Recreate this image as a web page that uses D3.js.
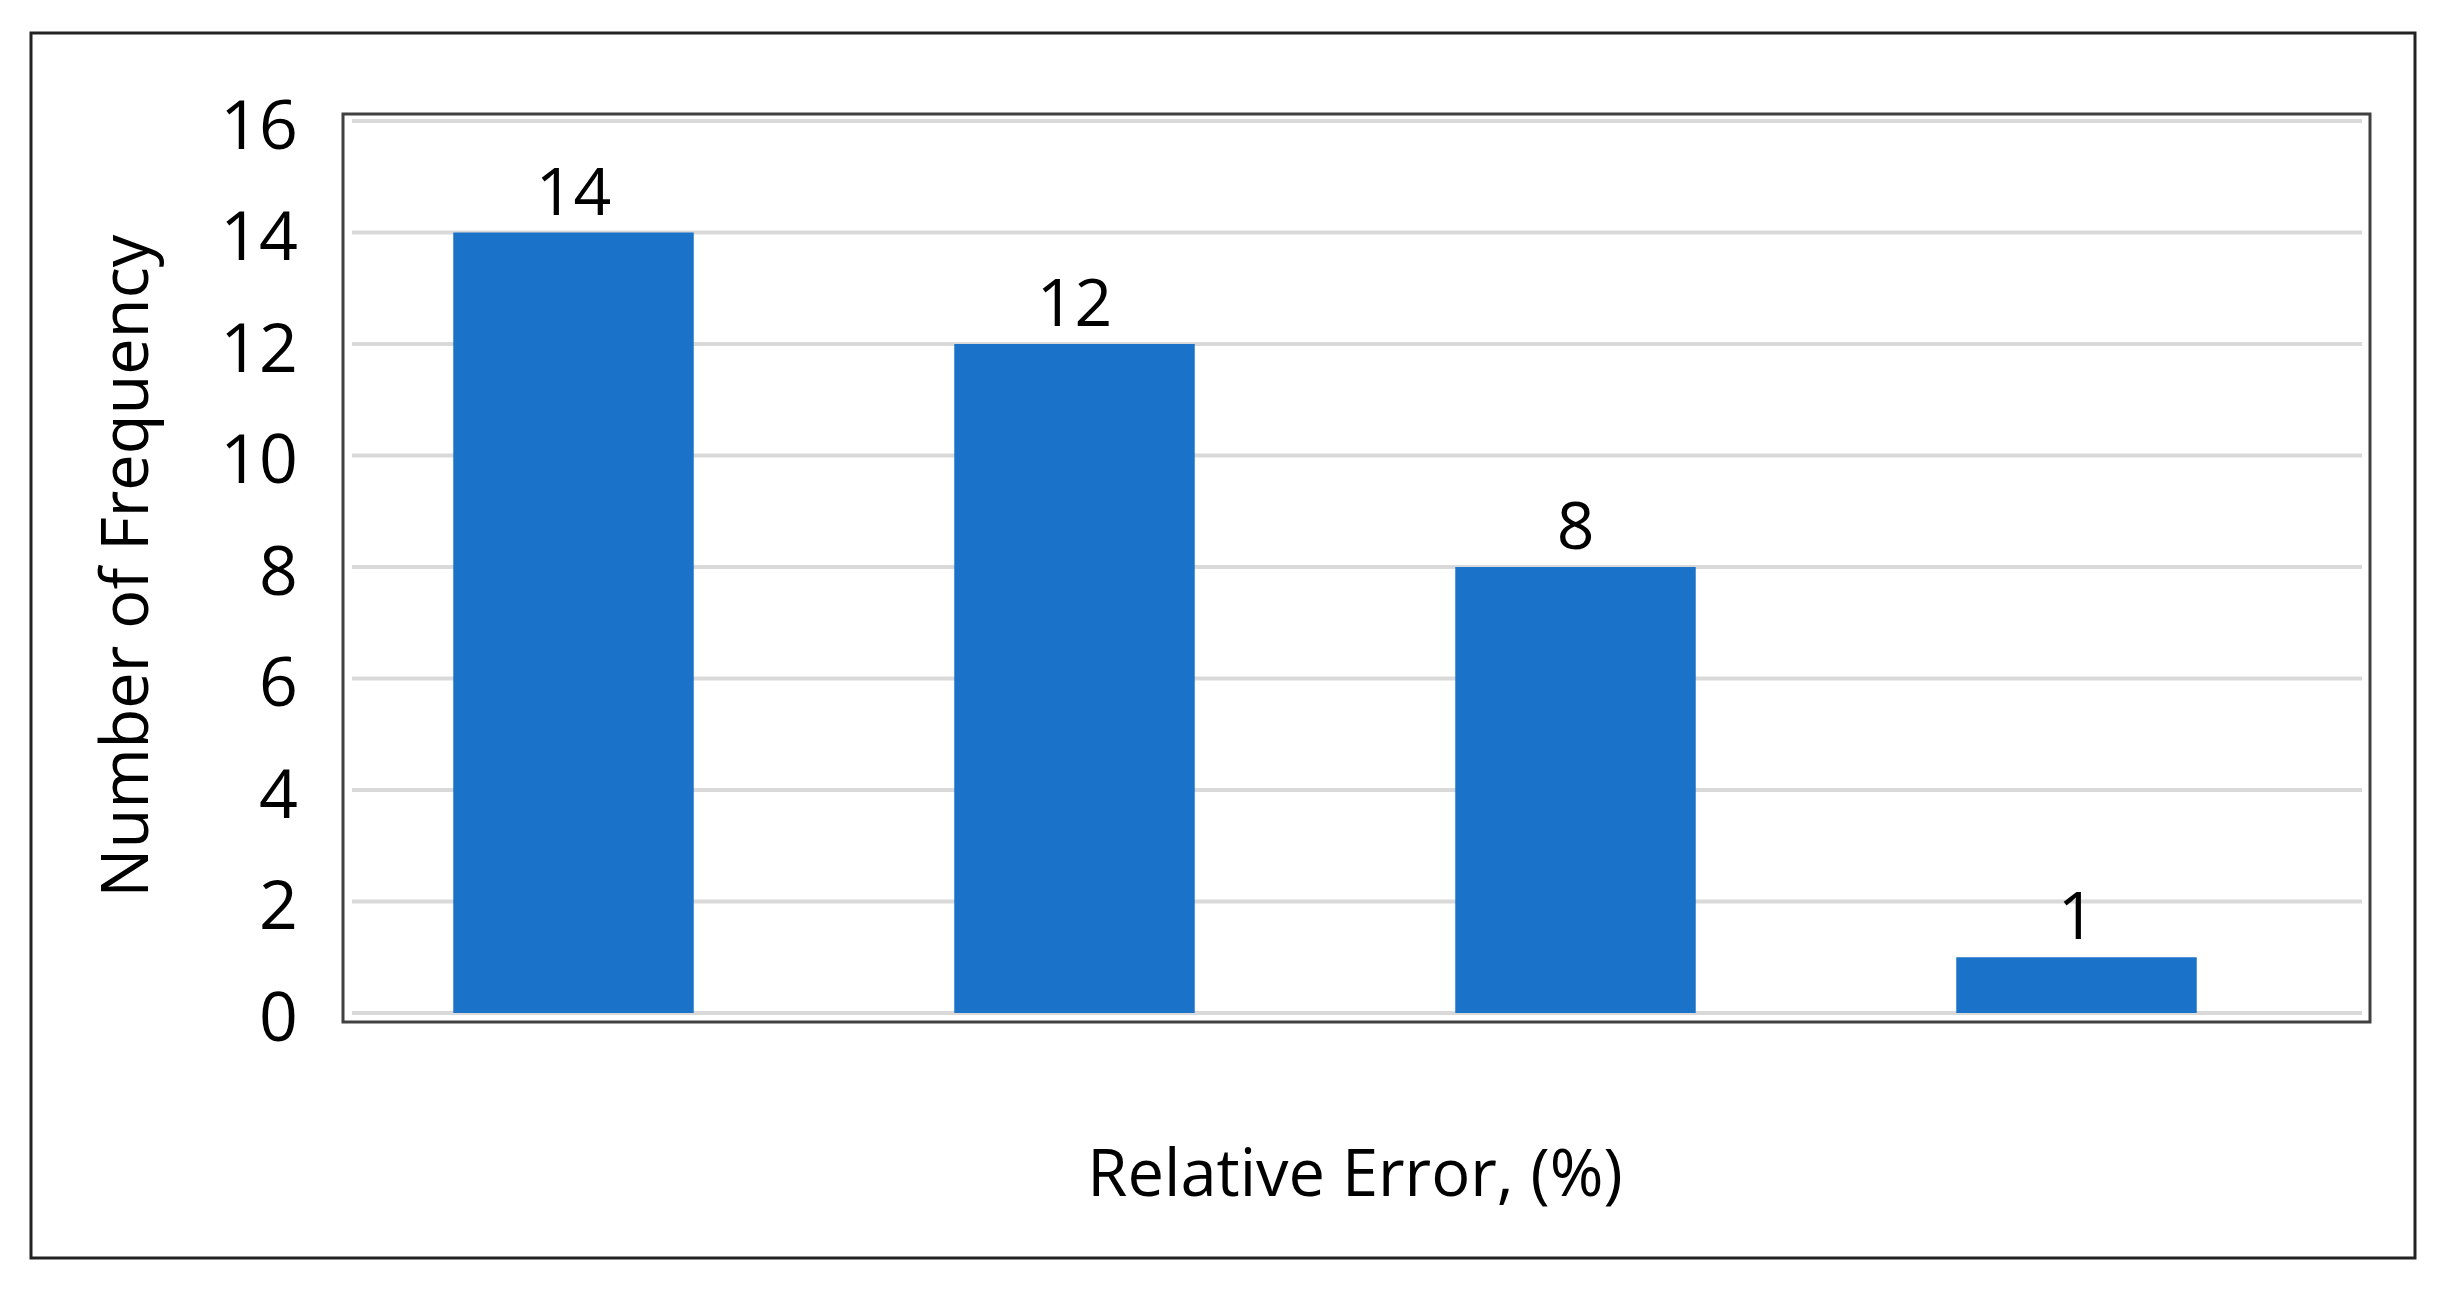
<!DOCTYPE html>
<html>
<head>
<meta charset="utf-8">
<script src="https://cdn.jsdelivr.net/npm/d3@7"></script>
<style>
  body { margin: 0; background: #fff; }
  text { font-family: 'Open Sans', 'Noto Sans', sans-serif; fill: #000; }
</style>
</head>
<body>
<div id="chart"></div>
<script>
// bins of the relative error histogram (no labels shown on the axis)
const bins = ['bin1', 'bin2', 'bin3', 'bin4'];
const frequency = [14, 12, 8, 1];
const yTicks = [0, 2, 4, 6, 8, 10, 12, 14, 16];
const xTitle = 'Relative Error, (%)';
const yTitle = 'Number of Frequency';

const config = {
    width: 2448,
    height: 1291,
    frame: { x: 31, y: 33, w: 2384, h: 1225 },
    plot: { left: 343, right: 2370, top: 114, bottom: 1022 },
    grid: { left: 352, right: 2362, top: 121, bottom: 1013 },
    barColor: '#1a73c8'
};

const svg = d3.select('#chart')
    .append('svg')
    .attr('width', config.width)
    .attr('height', config.height);

// outer frame
svg.append('rect')
    .attr('x', config.frame.x)
    .attr('y', config.frame.y)
    .attr('width', config.frame.w)
    .attr('height', config.frame.h)
    .attr('fill', 'none')
    .attr('stroke', '#222')
    .attr('stroke-width', 3);

const y = d3.scaleLinear()
    .domain([0, 16])
    .range([config.grid.bottom, config.grid.top]);

const x = d3.scaleBand()
    .domain(bins)
    .range([config.grid.left - 29, config.grid.right - 35])
    .paddingInner(0.52)
    .paddingOuter(0.26);

// gridlines
svg.append('g')
    .selectAll('line')
    .data(yTicks)
    .join('line')
    .attr('x1', config.grid.left)
    .attr('x2', config.grid.right)
    .attr('y1', d => y(d))
    .attr('y2', d => y(d))
    .attr('stroke', '#d9d9d9')
    .attr('stroke-width', 4);

// y axis tick labels
const yAxis = d3.axisLeft(y)
    .tickValues(yTicks)
    .tickSize(0)
    .tickPadding(0);

const yAxisG = svg.append('g')
    .attr('transform', `translate(298,0)`)
    .call(yAxis);
yAxisG.select('.domain').remove();
yAxisG.selectAll('text')
    .attr('dy', '0.40em')
    .style('font-family', "'Open Sans', sans-serif")
    .style('font-size', '68px')
    .attr('fill', '#000');

// bars
svg.append('g')
    .selectAll('rect')
    .data(frequency)
    .join('rect')
    .attr('x', (d, i) => x(bins[i]))
    .attr('y', d => y(d))
    .attr('width', x.bandwidth())
    .attr('height', d => y(0) - y(d))
    .attr('fill', config.barColor);

// value labels
svg.append('g')
    .selectAll('text')
    .data(frequency)
    .join('text')
    .attr('x', (d, i) => x(bins[i]) + x.bandwidth() / 2)
    .attr('y', d => y(d) - 18)
    .attr('text-anchor', 'middle')
    .style('font-size', '66px')
    .text(d => d);

// plot frame
svg.append('rect')
    .attr('x', config.plot.left)
    .attr('y', config.plot.top)
    .attr('width', config.plot.right - config.plot.left)
    .attr('height', config.plot.bottom - config.plot.top)
    .attr('fill', 'none')
    .attr('stroke', '#404040')
    .attr('stroke-width', 3);

// axis titles
svg.append('text')
    .attr('x', 1355)
    .attr('y', 1196)
    .attr('text-anchor', 'middle')
    .style('font-size', '65px')
    .text(xTitle);

svg.append('text')
    .attr('transform', 'translate(148,566) rotate(-90)')
    .attr('text-anchor', 'middle')
    .style('font-size', '65px')
    .text(yTitle);
</script>
</body>
</html>
